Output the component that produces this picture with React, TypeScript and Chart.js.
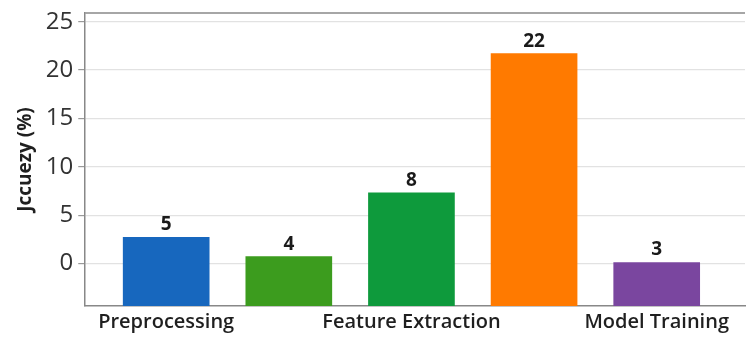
import React, { useEffect, useRef } from "react";
import { Chart, registerables } from "chart.js";

Chart.register(...registerables);

const categories = ["Preprocessing", "", "Feature Extraction", "", "Model Training"];
const barValues = [2.7, 0.7, 7.3, 21.7, 0.1];
const barLabels = ["5", "4", "8", "22", "3"];
const barColors = ["#1767be", "#3c9c1e", "#0e9a3c", "#ff7a00", "#7a469f"];
const yTicks = [0, 5, 10, 15, 20, 25];
const yMin = -4.4;
const yMax = 25.9;
const xMin = -0.66;
const xMax = 4.72;

const FONT = "'Open Sans', 'Noto Sans', sans-serif";

const labelPlugin = {
  id: "barLabels",
  afterDatasetsDraw(chart: any) {
    const ctx = chart.ctx;
    const meta = chart.getDatasetMeta(0);
    ctx.save();
    ctx.font = `700 19px ${FONT}`;
    ctx.fillStyle = "#1a1a1a";
    ctx.textAlign = "center";
    ctx.textBaseline = "bottom";
    meta.data.forEach((el: any, i: number) => {
      ctx.fillText(barLabels[i], el.x, el.y - 3);
    });
    ctx.restore();
  },
};

const topBorderPlugin = {
  id: "topBorder",
  afterDraw(chart: any) {
    const { ctx, chartArea } = chart;
    ctx.save();
    ctx.strokeStyle = "#888888";
    ctx.lineWidth = 1.5;
    ctx.beginPath();
    ctx.moveTo(chartArea.left, chartArea.top);
    ctx.lineTo(chartArea.right, chartArea.top);
    ctx.stroke();
    ctx.restore();
  },
};

export default function App() {
  const ref = useRef<HTMLCanvasElement | null>(null);

  useEffect(() => {
    document.body.style.margin = "0";
    const canvas = ref.current;
    if (!canvas) return;
    const chart = new Chart(canvas, {
      type: "bar",
      data: {
        datasets: [
          {
            data: barValues.map((v, i) => ({ x: i, y: v })),
            backgroundColor: barColors,
            borderWidth: 0,
            barThickness: 86,
            base: yMin,
          } as any,
        ],
      },
      options: {
        animation: false,
        responsive: false,
        maintainAspectRatio: false,
        layout: { padding: { top: 13, right: 2, left: 14, bottom: 0 } },
        plugins: { legend: { display: false }, tooltip: { enabled: false } },
        scales: {
          x: {
            type: "linear",
            min: xMin,
            max: xMax,
            offset: false,
            afterBuildTicks: (axis: any) => {
              axis.ticks = categories.map((_, i) => ({ value: i }));
            },
            afterFit: (s: any) => {
              s.paddingLeft = 0;
              s.paddingRight = 0;
            },
            ticks: {
              autoSkip: false,
              maxRotation: 0,
              color: "#1f1f1f",
              font: { family: FONT, size: 20, weight: "600" },
              padding: 4,
              callback: (v: any) => categories[v as number] ?? "",
            },
            grid: { display: false, drawTicks: false },
            border: { color: "#888888", width: 1.5 },
          },
          y: {
            min: yMin,
            max: yMax,
            afterBuildTicks: (axis: any) => {
              axis.ticks = yTicks.map((v) => ({ value: v }));
            },
            afterFit: (s: any) => {
              s.paddingTop = 0;
              s.paddingBottom = 0;
            },
            ticks: {
              color: "#333333",
              font: { family: FONT, size: 24 },
              padding: 5,
            },
            grid: {
              color: "#e2e2e2",
              lineWidth: 1.2,
              tickLength: 7,
              tickColor: "#999999",
            },
            border: { color: "#888888", width: 1.5 },
            title: {
              display: true,
              text: "Jccuezy (%)",
              color: "#1f1f1f",
              font: { family: FONT, size: 19, weight: "700" },
              padding: { top: 0, bottom: 4 },
            },
          },
        },
      },
      plugins: [labelPlugin, topBorderPlugin],
    });
    return () => chart.destroy();
  }, []);

  return (
    <div style={{ width: 747, height: 338, background: "#ffffff" }}>
      <canvas ref={ref} width={747} height={338} />
    </div>
  );
}
